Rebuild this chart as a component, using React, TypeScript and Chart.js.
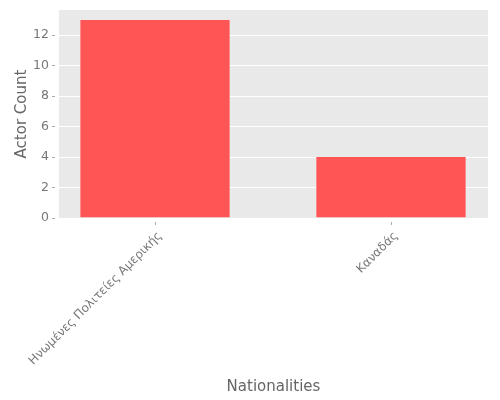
import React, { useEffect, useRef } from "react";
import { Chart, registerables } from "chart.js";

Chart.register(...registerables);

const categories = ["Ηνωμένες Πολιτείες Αμερικής", "Καναδάς"];
const actorCounts = [13, 4];
const yTicks = [0, 2, 4, 6, 8, 10, 12];

const FONT = "'DejaVu Sans', sans-serif";

const bgPlugin = {
  id: "plotBg",
  beforeDraw(chart: any) {
    const { ctx, chartArea } = chart;
    if (!chartArea) return;
    ctx.save();
    ctx.fillStyle = "#E9E9E9";
    ctx.fillRect(chartArea.left, chartArea.top, chartArea.right - chartArea.left, chartArea.bottom - chartArea.top);
    ctx.restore();
  },
};

export default function App() {
  const ref = useRef<HTMLCanvasElement | null>(null);

  useEffect(() => {
    if (!ref.current) return;
    const chart = new Chart(ref.current, {
      type: "bar",
      data: {
        datasets: [
          {
            data: actorCounts.map((v, i) => ({ x: i, y: v })),
            backgroundColor: "#FF5555",
            borderColor: "#FF8C8C",
            borderWidth: { left: 1, right: 1, top: 0, bottom: 0 },
            borderSkipped: false,
            barPercentage: 0.636,
            categoryPercentage: 1,
          },
        ],
      },
      plugins: [bgPlugin],
      options: {
        animation: false,
        responsive: false,
        maintainAspectRatio: false,
        layout: { padding: { top: 10, right: 12, left: 0, bottom: 0 } },
        plugins: { legend: { display: false }, tooltip: { enabled: false } },
        scales: {
          x: {
            type: "linear",
            offset: false,
            min: -0.407,
            max: 1.411,
            afterBuildTicks: (scale: any) => {
              scale.ticks = categories.map((_, i) => ({ value: i }));
            },
            afterFit: (scale: any) => {
              scale.height = 182;
              scale.paddingLeft = 0;
              scale.paddingRight = 0;
            },
            ticks: {
              callback: (v: any) => categories[v as number] ?? "",
              maxRotation: 45,
              minRotation: 45,
              autoSkip: false,
              color: "#777777",
              padding: 4,
              labelOffset: 5,
              font: { family: FONT, size: 12 },
            },
            grid: {
              offset: false,
              drawOnChartArea: false,
              tickColor: "#AAAAAA",
              tickLength: 7,
              tickBorderDash: [0, 4, 3, 20],
            },
            border: { display: false },
            title: {
              display: true,
              text: "Nationalities",
              color: "#666666",
              padding: { top: 4, bottom: 4 },
              font: { family: FONT, size: 15 },
            },
          },
          y: {
            min: 0,
            max: 13.65,
            afterBuildTicks: (scale: any) => {
              scale.ticks = yTicks.map((v) => ({ value: v }));
            },
            afterFit: (scale: any) => {
              scale.width = 59;
              scale.paddingTop = 0;
              scale.paddingBottom = 0;
            },
            ticks: {
              color: "#777777",
              padding: 3,
              font: { family: FONT, size: 12.5 },
            },
            grid: {
              color: "#FFFFFF",
              lineWidth: 1,
              tickColor: "#AAAAAA",
              tickLength: 7,
              tickBorderDash: [3, 20],
            },
            border: { display: false },
            title: {
              display: true,
              text: "Actor Count",
              color: "#666666",
              padding: { top: 13, bottom: 13 },
              font: { family: FONT, size: 15 },
            },
          },
        },
      },
    } as any);
    return () => chart.destroy();
  }, []);

  return (
    <div style={{ position: "absolute", left: 0, top: 0, width: 500, height: 400, background: "#fff" }}>
      <canvas ref={ref} width={500} height={400} style={{ width: 500, height: 400 }} />
    </div>
  );
}
